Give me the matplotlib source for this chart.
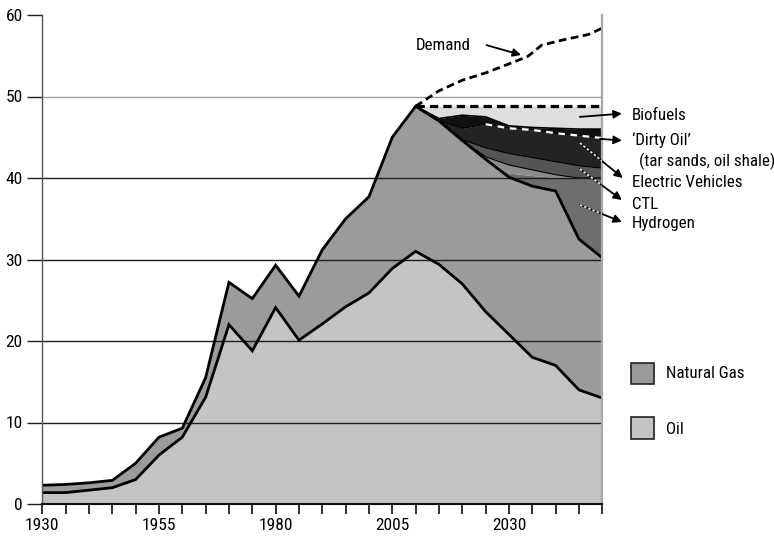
import numpy as np
import matplotlib
matplotlib.use("Agg")
import matplotlib.pyplot as plt
from matplotlib.patches import Rectangle
from matplotlib import font_manager as fm

_names = {f.name for f in fm.fontManager.ttflist}
if 'Liberation Sans Narrow' in _names:
    FAM, fs, tfs = 'Liberation Sans Narrow', 12.5, 13
elif 'Roboto Condensed' in _names:
    FAM, fs, tfs = 'Roboto Condensed', 12.2, 12.5
else:
    FAM, fs, tfs = 'Lato', 11.2, 12
plt.rcParams['font.family'] = [FAM, 'DejaVu Sans']

# ---------------- data ----------------
years = [1930, 1935, 1940, 1945, 1950, 1955, 1960, 1965, 1970, 1975, 1980, 1985,
         1990, 1995, 2000, 2005, 2010, 2015, 2020, 2025, 2030, 2035, 2040, 2045, 2050]
oil = [1.4, 1.4, 1.7, 2.0, 3.0, 6.0, 8.2, 13.1, 22.0, 18.8, 24.1, 20.1,
       22.1, 24.2, 25.9, 28.9, 31.0, 29.4, 27.0, 23.6, 20.8, 18.0, 17.0, 14.0, 13.0]
natural_gas = [0.9, 1.0, 0.9, 0.9, 2.0, 2.2, 1.1, 2.4, 5.2, 6.4, 5.2, 5.4,
               9.1, 10.8, 11.8, 16.1, 17.8, 17.6, 17.6, 18.7, 19.3, 21.0, 21.4, 18.5, 17.2]

future_years = [2010, 2015, 2020, 2025, 2030, 2035, 2040, 2045, 2050]
hydrogen = [0.0, 0.0, 0.0, 0.0, 0.5, 1.3, 1.7, 7.5, 9.8]
other = [0.0, 0.0, 0.0, 0.3, 1.0, 0.7, 0.3, 0.0, 0.0]
ctl = [0.0, 0.0, 0.1, 1.1, 1.4, 1.5, 1.6, 1.5, 1.2]
electric_vehicles = [0.0, 0.0, 1.4, 2.9, 3.1, 3.4, 3.5, 3.7, 3.7]
dirty_oil = [0.0, 0.3, 1.6, 0.9, 0.3, 0.3, 0.6, 0.8, 1.1]
biofuels = [0.0, 1.5, 1.2, 1.3, 2.4, 2.6, 2.7, 2.8, 2.8]

demand_years = [2010, 2015, 2020, 2025, 2030, 2034, 2037, 2042, 2047, 2050]
demand = [48.8, 50.7, 52.0, 52.9, 54.0, 54.9, 56.3, 57.0, 57.6, 58.4]

x_label_years = [1930, 1955, 1980, 2005, 2030]
y_ticks = [0, 10, 20, 30, 40, 50, 60]

# ---------------- figure ----------------
fig = plt.figure(figsize=(7.74, 5.40), dpi=100)
ax = fig.add_axes([42.3 / 774, 1 - 504 / 540, (602.3 - 42.3) / 774, (504 - 15) / 540])

yr = np.array(years, dtype=float)
oil_a = np.array(oil)
gas_top = oil_a + np.array(natural_gas)

ax.fill_between(yr, 0, oil_a, color='#c4c4c4', lw=0, zorder=1)
ax.fill_between(yr, oil_a, gas_top, color='#9b9b9b', lw=0, zorder=1)

fy = np.array(future_years, dtype=float)
base = gas_top[np.searchsorted(yr, fy)]
layers = [(hydrogen, '#6e6e6e'), (other, '#8c8c8c'), (ctl, '#555555'),
          (electric_vehicles, '#232323'), (dirty_oil, '#101010'), (biofuels, '#dedede')]
tops = []
cur = base.copy()
for vals, col in layers:
    nxt = cur + np.array(vals)
    ax.fill_between(fy, cur, nxt, color=col, lw=0, zorder=1.5)
    tops.append(nxt)
    cur = nxt

# thin boundaries between stacked layers
for t in tops[1:4]:
    ax.plot(fy, t, color='black', lw=0.8, zorder=2)
ax.plot(fy, tops[4], color='black', lw=1.2, zorder=2)
# white dashed line on top of electric vehicles
m = fy >= 2025
ax.plot(fy[m], tops[3][m], color='white', lw=1.6, dashes=(3, 2.5), zorder=2.6)

# grid lines drawn over the areas
for v in y_ticks[1:-1]:
    col = '#a0a0a0' if v == 50 else '#1e1e1e'
    ax.axhline(v, color=col, lw=1.0, zorder=2.2)

# main outlines
ax.plot(yr, oil_a, color='black', lw=2.0, zorder=3, solid_joinstyle='miter')
ax.plot(yr, gas_top, color='black', lw=2.0, zorder=3, solid_joinstyle='miter')

# demand and cap dashed lines
ax.plot(demand_years, demand, color='black', lw=2.0, dashes=(2.8, 1.6), zorder=4, clip_on=False)
ax.plot([fy[0], fy[-1]], [tops[-1][0], tops[-1][0]], color='black', lw=2.3,
        dashes=(2.6, 1.6), zorder=4)

# axes styling
ax.set_xlim(1930, 2050)
ax.set_ylim(0, 60)
ax.set_xticks(np.arange(1930, 2051, 5))
ax.set_xticklabels([str(y) if y in x_label_years else '' for y in range(1930, 2051, 5)])
ax.set_yticks(y_ticks)
ax.set_yticklabels([str(v) for v in y_ticks])
ax.tick_params(axis='x', direction='out', length=7, width=1.3, color='#222222',
               labelsize=tfs, pad=3)
ax.tick_params(axis='y', direction='out', length=11, width=1.0, color='#1e1e1e',
               labelsize=tfs, pad=3)
ax.spines['top'].set_visible(False)
ax.spines['left'].set_color('#555555')
ax.spines['left'].set_linewidth(1.0)
ax.spines['bottom'].set_color('#111111')
ax.spines['bottom'].set_linewidth(1.5)
ax.spines['right'].set_color('#a8a8a8')
ax.spines['right'].set_linewidth(1.6)
for sp in ax.spines.values():
    sp.set_zorder(5)

# ---------------- annotations ----------------
ax.text(2010.0, 56.3, 'Demand', fontsize=fs, va='center', ha='left')
ax.annotate('', xy=(2032.6, 55.1), xytext=(2025.2, 56.3),
            arrowprops=dict(arrowstyle='-|>', color='black', lw=1.3, mutation_scale=12,
                            shrinkA=0, shrinkB=0),
            annotation_clip=False)

tx = 2056.4
ax.text(tx, 47.7, 'Biofuels', fontsize=fs, va='center', ha='left')
ax.text(tx, 44.6, '\u2018Dirty Oil\u2019', fontsize=fs, va='center', ha='left')
ax.text(2057.9, 42.0, '(tar sands, oil shale)', fontsize=fs, va='center', ha='left')
ax.text(tx, 39.4, 'Electric Vehicles', fontsize=fs, va='center', ha='left')
ax.text(tx, 36.8, 'CTL', fontsize=fs, va='center', ha='left')
ax.text(tx, 34.4, 'Hydrogen', fontsize=fs, va='center', ha='left')

solid_arrows = [((2045.2, 47.5), (2054.2, 47.9)),
                ((2049.5, 44.8), (2054.2, 44.6))]
dotted_arrows = [((2045.2, 44.3), (2054.4, 40.0)),
                 ((2045.2, 41.1), (2054.2, 37.3)),
                 ((2045.2, 36.7), (2054.2, 34.6))]
for tail, head in solid_arrows + dotted_arrows:
    ax.annotate('', xy=head, xytext=tail,
                arrowprops=dict(arrowstyle='-|>', color='black', lw=1.3, mutation_scale=12,
                                shrinkA=0, shrinkB=0),
                annotation_clip=False, zorder=6)
for tail, head in dotted_arrows:
    t = (2050 - tail[0]) / (head[0] - tail[0])
    yend = tail[1] + t * (head[1] - tail[1])
    ax.plot([tail[0], 2050], [tail[1], yend], color='#e8e8e8', lw=1.2,
            dashes=(1.5, 1.2), zorder=7)

# legend boxes
for (ytop, ybot), col, lab, ytxt in [((362.7, 384.0), '#9b9b9b', 'Natural Gas', 373.3),
                                     ((416.7, 439.3), '#c4c4c4', 'Oil', 429.3)]:
    r = Rectangle((631 / 774, 1 - ybot / 540), 22.5 / 774, (ybot - ytop) / 540,
                  transform=fig.transFigure, facecolor=col, edgecolor='#222222', lw=1.2)
    fig.add_artist(r)
    fig.text(666 / 774, 1 - ytxt / 540, lab, fontsize=fs, va='center', ha='left')

fig.savefig('out.png', dpi=100)
